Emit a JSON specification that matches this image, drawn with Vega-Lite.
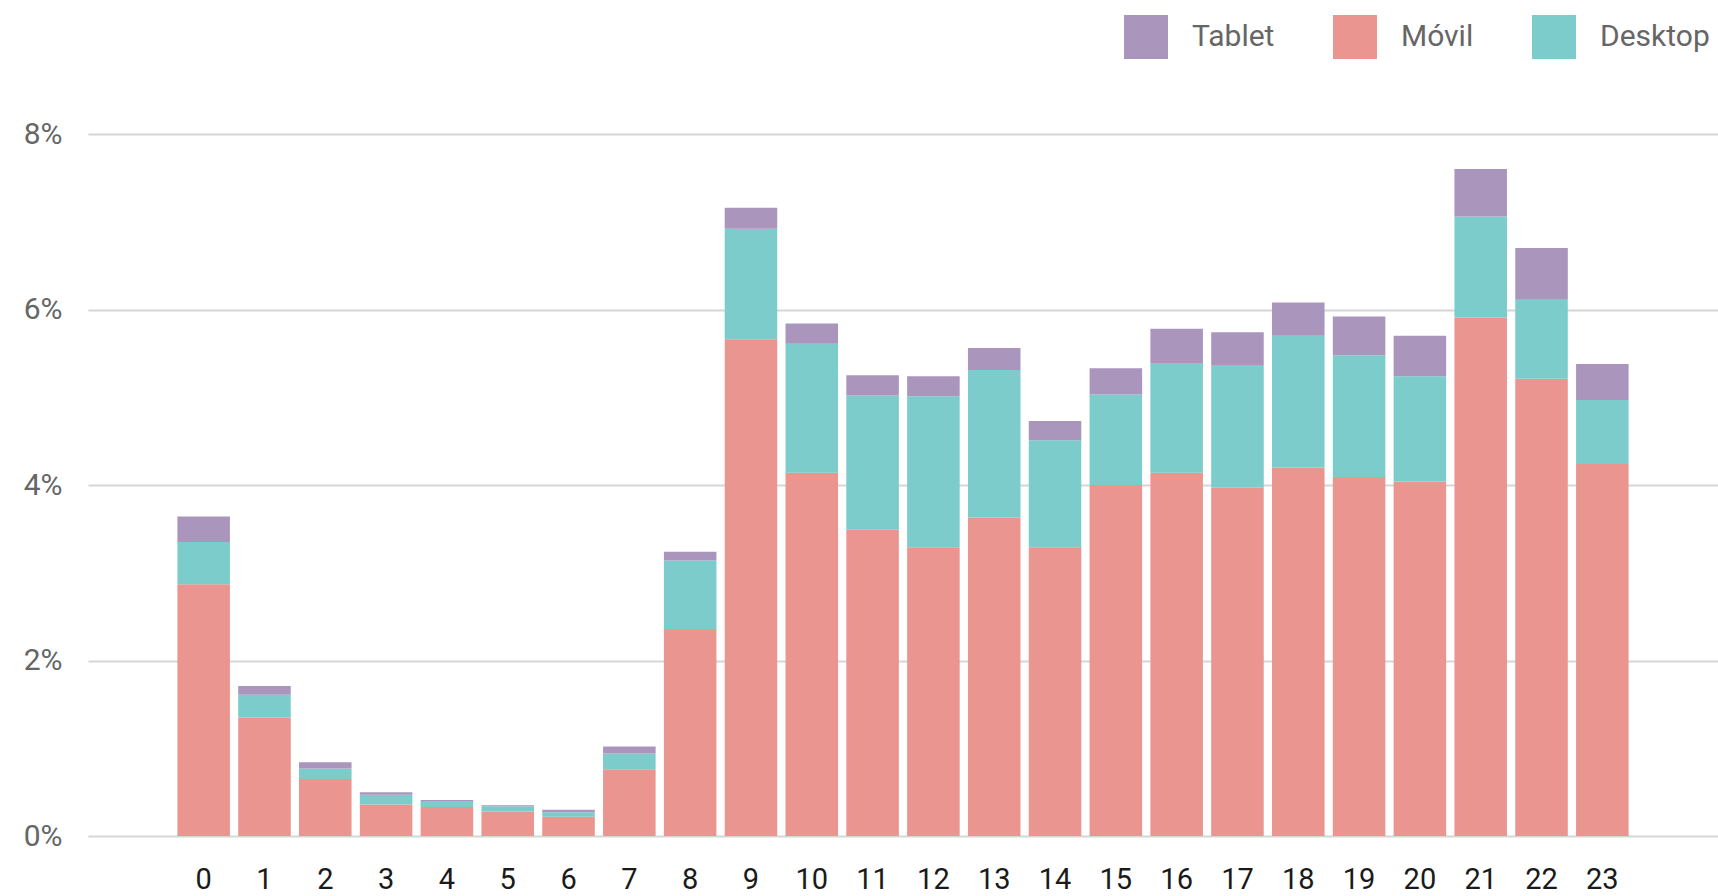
{
  "$schema": "https://vega.github.io/schema/vega-lite/v6.json",
  "autosize": {"type": "none"},
  "width": 1630,
  "height": 702,
  "padding": {"left": 88, "top": 134, "right": 0, "bottom": 60},
  "background": "white",
  "config": {
    "view": {"stroke": null},
    "font": "Roboto"
  },
  "data": {
    "values": [
      {"hora": 0, "dispositivo": "Móvil", "valor": 2.87, "capa": 1},
      {"hora": 0, "dispositivo": "Desktop", "valor": 0.48, "capa": 2},
      {"hora": 0, "dispositivo": "Tablet", "valor": 0.29, "capa": 3},
      {"hora": 1, "dispositivo": "Móvil", "valor": 1.35, "capa": 1},
      {"hora": 1, "dispositivo": "Desktop", "valor": 0.26, "capa": 2},
      {"hora": 1, "dispositivo": "Tablet", "valor": 0.10, "capa": 3},
      {"hora": 2, "dispositivo": "Móvil", "valor": 0.65, "capa": 1},
      {"hora": 2, "dispositivo": "Desktop", "valor": 0.12, "capa": 2},
      {"hora": 2, "dispositivo": "Tablet", "valor": 0.07, "capa": 3},
      {"hora": 3, "dispositivo": "Móvil", "valor": 0.36, "capa": 1},
      {"hora": 3, "dispositivo": "Desktop", "valor": 0.11, "capa": 2},
      {"hora": 3, "dispositivo": "Tablet", "valor": 0.03, "capa": 3},
      {"hora": 4, "dispositivo": "Móvil", "valor": 0.33, "capa": 1},
      {"hora": 4, "dispositivo": "Desktop", "valor": 0.06, "capa": 2},
      {"hora": 4, "dispositivo": "Tablet", "valor": 0.02, "capa": 3},
      {"hora": 5, "dispositivo": "Móvil", "valor": 0.28, "capa": 1},
      {"hora": 5, "dispositivo": "Desktop", "valor": 0.06, "capa": 2},
      {"hora": 5, "dispositivo": "Tablet", "valor": 0.01, "capa": 3},
      {"hora": 6, "dispositivo": "Móvil", "valor": 0.22, "capa": 1},
      {"hora": 6, "dispositivo": "Desktop", "valor": 0.05, "capa": 2},
      {"hora": 6, "dispositivo": "Tablet", "valor": 0.03, "capa": 3},
      {"hora": 7, "dispositivo": "Móvil", "valor": 0.76, "capa": 1},
      {"hora": 7, "dispositivo": "Desktop", "valor": 0.18, "capa": 2},
      {"hora": 7, "dispositivo": "Tablet", "valor": 0.08, "capa": 3},
      {"hora": 8, "dispositivo": "Móvil", "valor": 2.36, "capa": 1},
      {"hora": 8, "dispositivo": "Desktop", "valor": 0.78, "capa": 2},
      {"hora": 8, "dispositivo": "Tablet", "valor": 0.10, "capa": 3},
      {"hora": 9, "dispositivo": "Móvil", "valor": 5.66, "capa": 1},
      {"hora": 9, "dispositivo": "Desktop", "valor": 1.26, "capa": 2},
      {"hora": 9, "dispositivo": "Tablet", "valor": 0.24, "capa": 3},
      {"hora": 10, "dispositivo": "Móvil", "valor": 4.14, "capa": 1},
      {"hora": 10, "dispositivo": "Desktop", "valor": 1.47, "capa": 2},
      {"hora": 10, "dispositivo": "Tablet", "valor": 0.23, "capa": 3},
      {"hora": 11, "dispositivo": "Móvil", "valor": 3.49, "capa": 1},
      {"hora": 11, "dispositivo": "Desktop", "valor": 1.53, "capa": 2},
      {"hora": 11, "dispositivo": "Tablet", "valor": 0.23, "capa": 3},
      {"hora": 12, "dispositivo": "Móvil", "valor": 3.29, "capa": 1},
      {"hora": 12, "dispositivo": "Desktop", "valor": 1.72, "capa": 2},
      {"hora": 12, "dispositivo": "Tablet", "valor": 0.23, "capa": 3},
      {"hora": 13, "dispositivo": "Móvil", "valor": 3.63, "capa": 1},
      {"hora": 13, "dispositivo": "Desktop", "valor": 1.68, "capa": 2},
      {"hora": 13, "dispositivo": "Tablet", "valor": 0.25, "capa": 3},
      {"hora": 14, "dispositivo": "Móvil", "valor": 3.29, "capa": 1},
      {"hora": 14, "dispositivo": "Desktop", "valor": 1.22, "capa": 2},
      {"hora": 14, "dispositivo": "Tablet", "valor": 0.22, "capa": 3},
      {"hora": 15, "dispositivo": "Móvil", "valor": 4.00, "capa": 1},
      {"hora": 15, "dispositivo": "Desktop", "valor": 1.03, "capa": 2},
      {"hora": 15, "dispositivo": "Tablet", "valor": 0.30, "capa": 3},
      {"hora": 16, "dispositivo": "Móvil", "valor": 4.14, "capa": 1},
      {"hora": 16, "dispositivo": "Desktop", "valor": 1.25, "capa": 2},
      {"hora": 16, "dispositivo": "Tablet", "valor": 0.39, "capa": 3},
      {"hora": 17, "dispositivo": "Móvil", "valor": 3.97, "capa": 1},
      {"hora": 17, "dispositivo": "Desktop", "valor": 1.39, "capa": 2},
      {"hora": 17, "dispositivo": "Tablet", "valor": 0.38, "capa": 3},
      {"hora": 18, "dispositivo": "Móvil", "valor": 4.20, "capa": 1},
      {"hora": 18, "dispositivo": "Desktop", "valor": 1.50, "capa": 2},
      {"hora": 18, "dispositivo": "Tablet", "valor": 0.38, "capa": 3},
      {"hora": 19, "dispositivo": "Móvil", "valor": 4.09, "capa": 1},
      {"hora": 19, "dispositivo": "Desktop", "valor": 1.39, "capa": 2},
      {"hora": 19, "dispositivo": "Tablet", "valor": 0.44, "capa": 3},
      {"hora": 20, "dispositivo": "Móvil", "valor": 4.04, "capa": 1},
      {"hora": 20, "dispositivo": "Desktop", "valor": 1.20, "capa": 2},
      {"hora": 20, "dispositivo": "Tablet", "valor": 0.46, "capa": 3},
      {"hora": 21, "dispositivo": "Móvil", "valor": 5.91, "capa": 1},
      {"hora": 21, "dispositivo": "Desktop", "valor": 1.15, "capa": 2},
      {"hora": 21, "dispositivo": "Tablet", "valor": 0.54, "capa": 3},
      {"hora": 22, "dispositivo": "Móvil", "valor": 5.21, "capa": 1},
      {"hora": 22, "dispositivo": "Desktop", "valor": 0.90, "capa": 2},
      {"hora": 22, "dispositivo": "Tablet", "valor": 0.59, "capa": 3},
      {"hora": 23, "dispositivo": "Móvil", "valor": 4.24, "capa": 1},
      {"hora": 23, "dispositivo": "Desktop", "valor": 0.73, "capa": 2},
      {"hora": 23, "dispositivo": "Tablet", "valor": 0.41, "capa": 3}
    ]
  },
  "mark": {"type": "bar"},
  "encoding": {
    "x": {
      "field": "hora",
      "type": "ordinal",
      "scale": {
        "domain": [-1, 0, 1, 2, 3, 4, 5, 6, 7, 8, 9, 10, 11, 12, 13, 14, 15, 16, 17, 18, 19, 20, 21, 22, 23, 24],
        "paddingInner": 0.136,
        "paddingOuter": 0.47
      },
      "axis": {
        "title": null,
        "labelAngle": 0,
        "domain": false,
        "ticks": false,
        "labelExpr": "datum.value < 0 || datum.value > 23 ? '' : datum.label",
        "labelFontSize": 29,
        "labelColor": "#1a1a1a",
        "labelPadding": 29,
        "labelFont": "Roboto"
      }
    },
    "y": {
      "field": "valor",
      "type": "quantitative",
      "stack": "zero",
      "scale": {"domain": [0, 8], "nice": false},
      "axis": {
        "title": null,
        "values": [0, 2, 4, 6, 8],
        "labelExpr": "datum.value + '%'",
        "domain": false,
        "ticks": false,
        "grid": true,
        "gridColor": "#d6d6d6",
        "gridWidth": 2,
        "labelFontSize": 30,
        "labelColor": "#666666",
        "labelPadding": 26,
        "labelFont": "Roboto"
      }
    },
    "color": {
      "field": "dispositivo",
      "type": "nominal",
      "scale": {
        "domain": ["Tablet", "Móvil", "Desktop"],
        "range": ["#aa96bc", "#ea958f", "#7bcccb"]
      },
      "legend": {
        "title": null,
        "orient": "none",
        "legendX": 1036,
        "legendY": -119,
        "direction": "horizontal",
        "symbolType": "square",
        "symbolSize": 1936,
        "symbolStrokeWidth": 0,
        "symbolOpacity": 1,
        "labelFontSize": 30,
        "labelColor": "#666666",
        "labelFont": "Roboto",
        "labelOffset": 24,
        "columnPadding": 58
      }
    },
    "order": {"field": "capa", "type": "quantitative", "sort": "ascending"}
  }
}
